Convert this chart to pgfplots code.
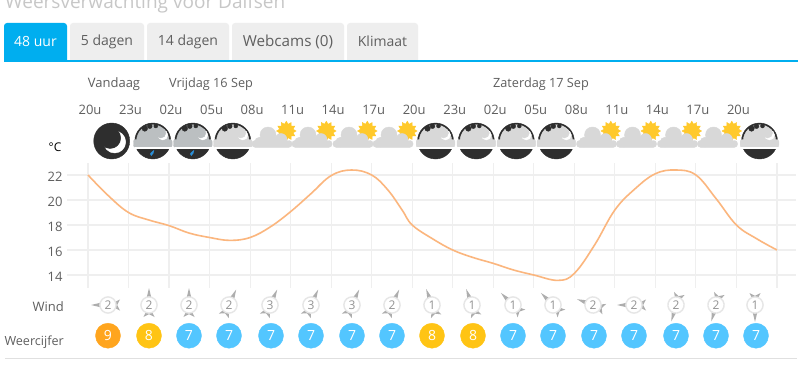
\documentclass[border=0pt]{standalone}
\usepackage{fontspec}
\setmainfont{Open Sans}
\usepackage{pgfplots}
\pgfplotsset{compat=1.18}
\definecolor{txt}{HTML}{5F5F5F}
\definecolor{gridc}{HTML}{EFEFEF}
\definecolor{tabblue}{HTML}{00AEEF}
\definecolor{tabgrey}{HTML}{EEEEEE}
\definecolor{dark}{HTML}{2E2E2E}
\definecolor{cloudl}{HTML}{D8D8D8}
\definecolor{cloudd}{HTML}{BBBFC1}
\definecolor{sun}{HTML}{FFC92B}
\definecolor{drop}{HTML}{2A8FD8}
\definecolor{ring}{HTML}{E6E6E6}
\definecolor{arrowc}{HTML}{ADADAD}
\definecolor{rorange}{HTML}{FFA51E}
\definecolor{ryellow}{HTML}{FFC414}
\definecolor{rblue}{HTML}{53C6FF}
\definecolor{curve}{HTML}{FBB67E}
\newcommand{\nightbody}[1]{%
  \fill[dark] (0,0) circle (18pt);
  \fill[#1] (-22:16.2pt) arc[start angle=-22,end angle=202,radius=16.2pt] -- cycle;
  \fill[#1,rounded corners=2pt] (-19.3pt,-6.3pt) rectangle (19.3pt,1.5pt);
  \fill[dark] (-8pt,12.5pt) circle (2.8pt);
  \fill[dark] (-3pt,14.8pt) circle (2.4pt);
  \fill[dark] (3pt,15pt) circle (2pt);
  \fill[white] (10pt,6pt) circle (5pt);
  \fill[#1] (8pt,8pt) circle (5pt);
  \fill[white] (-18pt,-7pt) rectangle (18pt,-6.2pt);
}
\pgfdeclareplotmark{wmoon}{%
  \fill[dark] (0,0) circle (18pt);
  \fill[white] (3pt,-1pt) circle (11pt);
  \fill[dark] (-1.5pt,3pt) circle (10.5pt);
}
\pgfdeclareplotmark{wnight}{\nightbody{cloudl}}
\pgfdeclareplotmark{wrain}{%
  \nightbody{cloudd}
  \fill[drop] (1pt,-9.5pt) .. controls (0pt,-11pt) and (1pt,-14pt) .. (-1.5pt,-14.5pt)
     .. controls (-3.5pt,-14.5pt) and (-3pt,-12pt) .. cycle;
}
\pgfdeclareplotmark{wsun}{%
  \fill[sun] (22.6pt,10pt) -- (19.56pt,11.81pt) -- (21.29pt,14.9pt) -- (17.75pt,14.95pt) -- (17.7pt,18.49pt) -- (14.61pt,16.76pt) -- (12.8pt,19.8pt) -- (10.99pt,16.76pt) -- (7.9pt,18.49pt) -- (7.85pt,14.95pt) -- (4.31pt,14.9pt) -- (6.04pt,11.81pt) -- (3pt,10pt) -- (6.04pt,8.19pt) -- (4.31pt,5.1pt) -- (7.85pt,5.05pt) -- (7.9pt,1.51pt) -- (10.99pt,3.24pt) -- (12.8pt,0.2pt) -- (14.61pt,3.24pt) -- (17.7pt,1.51pt) -- (17.75pt,5.05pt) -- (21.29pt,5.1pt) -- (19.56pt,8.19pt) -- cycle;
  \fill[cloudl,rounded corners=3pt] (-21.5pt,-6.3pt) rectangle (18.5pt,0.5pt);
  \fill[cloudl] (-5.5pt,6pt) circle (8pt);
  \fill[cloudl] (7.5pt,1.5pt) circle (6pt);
  \fill[cloudl] (-14pt,-1pt) circle (4.8pt);
  \fill[cloudl] (-4pt,-2pt) rectangle (8pt,3pt);
}
\pgfdeclareplotmark{wwind}{%
  \pgfsetfillcolor{arrowc}
  \pgfpathmoveto{\pgfqpoint{-2.6pt}{6pt}}\pgfpathlineto{\pgfqpoint{0pt}{17pt}}\pgfpathlineto{\pgfqpoint{2.6pt}{6pt}}\pgfpathclose
  \pgfpathmoveto{\pgfqpoint{-2.6pt}{-6pt}}\pgfpathlineto{\pgfqpoint{-5.5pt}{-12pt}}\pgfpathlineto{\pgfqpoint{0pt}{-9.2pt}}\pgfpathlineto{\pgfqpoint{5.5pt}{-12pt}}\pgfpathlineto{\pgfqpoint{2.6pt}{-6pt}}\pgfpathclose
  \pgfusepath{fill}
  \pgfsetfillcolor{white}
  \pgfsetstrokecolor{ring}
  \pgfsetlinewidth{1.4pt}
  \pgfpathcircle{\pgfpointorigin}{8.1pt}
  \pgfusepath{fill,stroke}
}
\pgfplotsset{
  windp/.style={only marks,mark=wwind,mark options={rotate=#1},
    point meta=explicit symbolic, nodes near coords, nodes near coords align={anchor=center},
    every node near coord/.append style={font=\fontsize{12}{14}\selectfont,text=gray!85,inner sep=0pt}},
  rating/.style={only marks,color=#1,mark=*,mark size=12.5pt,mark options={solid,draw=#1,fill=#1},
    point meta=explicit symbolic, nodes near coords, nodes near coords align={anchor=center},
    every node near coord/.append style={font=\fontsize{14}{16}\selectfont,text=white,inner sep=0pt}},
}
\begin{document}
\begin{tikzpicture}
\path[use as bounding box,clip] (0,0) rectangle (806pt,369pt);
\fill[white] (0,0) rectangle (806pt,369pt);
% temperature panel
\begin{axis}[
  at={(67pt,81pt)}, anchor=south west,
  scale only axis, width=729pt, height=125pt,
  xmin=-0.518, xmax=17.47, ymin=12.96, ymax=22.96,
  axis line style={draw=none},
  tick style={draw=none}, major tick length=0pt,
  xtick={0,1,...,17},
  xticklabels={20u,23u,02u,05u,08u,11u,14u,17u,20u,23u,02u,05u,08u,11u,14u,17u,20u,{}},
  xticklabel pos=upper,
  xticklabel style={font=\fontsize{13}{15}\selectfont, text=txt, yshift=45pt, xshift=2pt},
  ytick={14,16,18,20,22},
  yticklabel style={font=\fontsize{13}{15}\selectfont, text=txt, xshift=-1pt, yshift=-1.5pt},
  /pgf/number format/assume math mode=true,
  xmajorgrids, ymajorgrids,
  x grid style={gridc,line width=1.1pt},
  y grid style={gridc,line width=2pt},
  clip=false,
]
\addplot[curve,line width=1.6pt,smooth,tension=0.65] coordinates {
 (0,22) (0.5,20.35) (1,19.0) (1.5,18.4) (2,17.95) (2.5,17.35) (3,17.0) (3.5,16.77) (4,17.0)
 (4.5,17.85) (5,19.07) (5.5,20.5) (6,21.95) (6.5,22.4) (7,22) (7.4,20.8) (7.75,19.2) (8,18.0)
 (8.5,16.9) (9,16.0) (9.5,15.4) (10,14.93) (10.5,14.4) (11,14.0) (11.6,13.57) (12,14.13)
 (12.5,16.4) (13,19.2) (13.5,20.9) (14,22.1) (14.5,22.4) (15,22) (15.5,20.1) (16,18) (16.5,16.9) (17,16)
};
\end{axis}
% pixel overlay
\begin{axis}[
  at={(0pt,0pt)}, anchor=south west,
  scale only axis, width=806pt, height=369pt,
  xmin=0, xmax=806, ymin=0, ymax=369, y dir=reverse,
  hide axis, clip=false,
]
% weather icons
\addplot[only marks,mark=wmoon] coordinates {(111.7,141)};
\addplot[only marks,mark=wrain] coordinates {(152.8,141) (192.8,141)};
\addplot[only marks,mark=wnight] coordinates {(232.8,141) (435.5,141) (476.3,141) (516.3,141) (556.3,141) (759.5,141)};
\addplot[only marks,mark=wsun] coordinates {(273.5,141) (313.5,141) (354.5,141) (394.5,141) (598,141) (638,141) (679,141) (719,141)};
% wind
\addplot[windp=90] coordinates {(108,305)[2]};
\addplot[windp=0] coordinates {(149,305)[2] (189,305)[2]};
\addplot[windp=-25] coordinates {(229,305)[2] (270,305)[3] (311,305)[3] (352,305)[3] (392,305)[2]};
\addplot[windp=20] coordinates {(432,305)[1] (472,305)[1]};
\addplot[windp=45] coordinates {(513,305)[1] (553,305)[1]};
\addplot[windp=70] coordinates {(593,305)[2]};
\addplot[windp=90] coordinates {(634,305)[2]};
\addplot[windp=164] coordinates {(676,305)[2] (716,305)[2]};
\addplot[windp=180] coordinates {(755,305)[1]};
% ratings
\addplot[rating=rorange] coordinates {(108,335.7)[9]};
\addplot[rating=ryellow] coordinates {(149,335.7)[8] (432,335.7)[8] (473,335.7)[8]};
\addplot[rating=rblue] coordinates {(189,335.7)[7] (229,335.7)[7] (271,335.7)[7] (311,335.7)[7] (352,335.7)[7] (392,335.7)[7]
  (513,335.7)[7] (553,335.7)[7] (594,335.7)[7] (634,335.7)[7] (676,335.7)[7] (716,335.7)[7] (756,335.7)[7]};
% page furniture
\node[anchor=base west,text=black!22,font=\fontsize{19}{22}\selectfont,inner sep=0pt] at (5,8.5) {Weersverwachting voor Dalfsen};
\fill[tabblue,rounded corners=3pt] (4,23) rectangle (67,66);
\fill[white] (0,60) rectangle (806,70);
\fill[tabgrey,rounded corners=3pt] (70,23) rectangle (144,66);
\fill[tabgrey,rounded corners=3pt] (147,23) rectangle (229,66);
\fill[tabgrey,rounded corners=3pt] (232,23) rectangle (344,66);
\fill[tabgrey,rounded corners=3pt] (347,23) rectangle (418,66);
\fill[white] (68,60) rectangle (806,70);
\fill[tabblue] (4,60) rectangle (798,62);
\node[text=white,font=\fontsize{14}{16}\selectfont,inner sep=0pt] at (35.5,41.5) {48 uur};
\node[text=txt,font=\fontsize{14}{16}\selectfont,inner sep=0pt] at (107,41.5) {5 dagen};
\node[text=txt,font=\fontsize{14}{16}\selectfont,inner sep=0pt] at (188,41.5) {14 dagen};
\node[text=txt,font=\fontsize{15.2}{16}\selectfont,inner sep=0pt] at (288,41.5) {Webcams (0)};
\node[text=txt,font=\fontsize{14}{16}\selectfont,inner sep=0pt] at (382.5,41.5) {Klimaat};
\node[text=txt,font=\fontsize{13}{15}\selectfont,inner sep=0pt] at (114,84) {Vandaag};
\node[text=txt,font=\fontsize{12.7}{15}\selectfont,inner sep=0pt] at (211,84) {Vrijdag 16 Sep};
\node[text=txt,font=\fontsize{12.7}{15}\selectfont,inner sep=0pt] at (541,84) {Zaterdag 17 Sep};
\node[text=black,font=\fontsize{12}{14}\selectfont,inner sep=0pt] at (55,147) {°C};
\node[anchor=east,text=txt,font=\fontsize{13}{15}\selectfont,inner sep=0pt] at (64,307) {Wind};
\node[anchor=east,text=txt,font=\fontsize{12.6}{15}\selectfont,inner sep=0pt] at (64,342) {Weercijfer};
\fill[black!12!white] (5,358.3) rectangle (797,359.3);
\end{axis}
\end{tikzpicture}
\end{document}
